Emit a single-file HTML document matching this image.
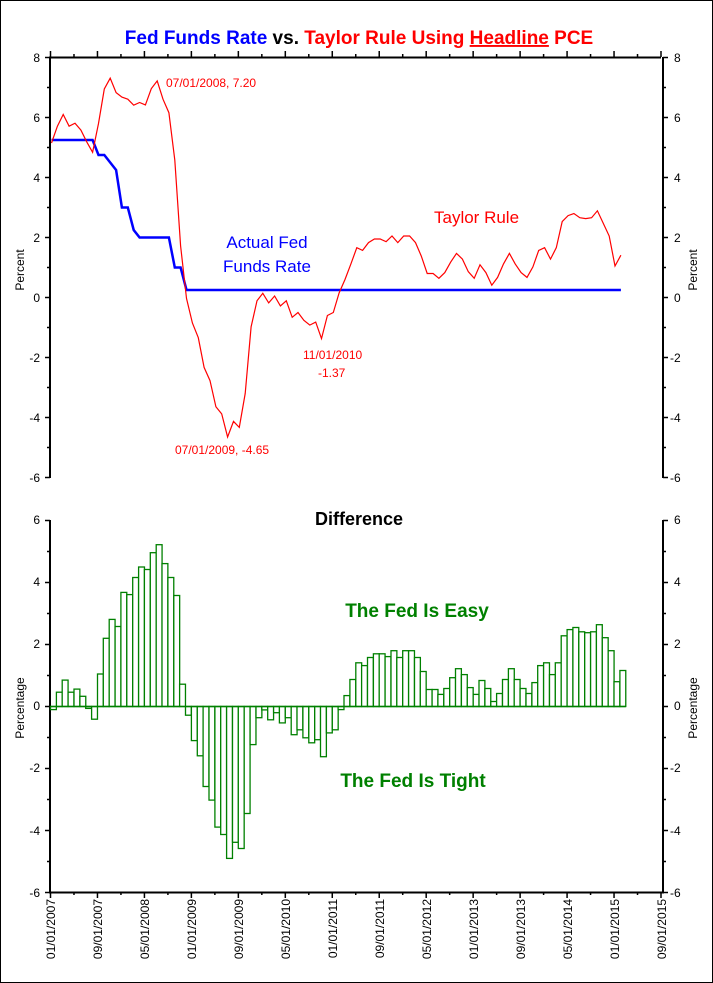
<!DOCTYPE html>
<html><head><meta charset="utf-8"><style>
html,body{margin:0;padding:0;background:#fff}
svg{display:block;font-family:"Liberation Sans",Arial,sans-serif}
</style></head><body>
<svg id="s" width="713" height="983" viewBox="0 0 713 983" xmlns="http://www.w3.org/2000/svg">
<rect x="0.5" y="0.5" width="712" height="982" fill="#fff" stroke="#000" stroke-width="1"/>
<g id="g"></g>
<text x="359" y="44" text-anchor="middle" font-size="19" font-weight="bold"><tspan fill="#0000ff">Fed Funds Rate</tspan><tspan fill="#000"> vs. </tspan><tspan fill="#ff0000">Taylor Rule Using </tspan><tspan fill="#ff0000" text-decoration="underline">Headline</tspan><tspan fill="#ff0000"> PCE</tspan></text>
<g font-size="12" fill="#000" text-anchor="end">
<text x="40" y="62">8</text><text x="40" y="122">6</text><text x="40" y="182">4</text><text x="40" y="242">2</text><text x="40" y="302">0</text><text x="40" y="362">-2</text><text x="40" y="422">-4</text><text x="40" y="482">-6</text>
<text x="40" y="524">6</text><text x="40" y="586">4</text><text x="40" y="648">2</text><text x="40" y="710">0</text><text x="40" y="772">-2</text><text x="40" y="835">-4</text><text x="40" y="897">-6</text>
</g>
<g font-size="12" fill="#000" text-anchor="start">
<text x="674" y="62">8</text><text x="674" y="122">6</text><text x="674" y="182">4</text><text x="674" y="242">2</text><text x="674" y="302">0</text><text x="670" y="362">-2</text><text x="670" y="422">-4</text><text x="670" y="482">-6</text>
<text x="674" y="524">6</text><text x="674" y="586">4</text><text x="674" y="648">2</text><text x="674" y="710">0</text><text x="670" y="772">-2</text><text x="670" y="835">-4</text><text x="670" y="897">-6</text>
</g>
<text transform="translate(24,270) rotate(-90)" font-size="12" text-anchor="middle">Percent</text>
<text transform="translate(697,270) rotate(-90)" font-size="12" text-anchor="middle">Percent</text>
<text transform="translate(24,708) rotate(-90)" font-size="12" text-anchor="middle">Percentage</text>
<text transform="translate(697,708) rotate(-90)" font-size="12" text-anchor="middle">Percentage</text>
<g font-size="12" fill="#ff0000">
<text x="166" y="87">07/01/2008, 7.20</text>
<text x="303" y="359">11/01/2010</text>
<text x="318" y="377">-1.37</text>
<text x="175" y="454">07/01/2009, -4.65</text>
</g>
<text x="434" y="223" font-size="17" fill="#ff0000">Taylor Rule</text>
<text x="267" y="248" font-size="17" fill="#0000ff" text-anchor="middle">Actual Fed</text>
<text x="267" y="272" font-size="17" fill="#0000ff" text-anchor="middle">Funds Rate</text>
<text x="359" y="525" font-size="18" font-weight="bold" text-anchor="middle">Difference</text>
<text x="417" y="617" font-size="19" font-weight="bold" fill="#008000" text-anchor="middle">The Fed Is Easy</text>
<text x="413" y="787" font-size="19" font-weight="bold" fill="#008000" text-anchor="middle">The Fed Is Tight</text>
<g font-size="12" text-anchor="end">
<text transform="translate(55,899) rotate(-90)">01/01/2007</text>
<text transform="translate(102,899) rotate(-90)">09/01/2007</text>
<text transform="translate(149,899) rotate(-90)">05/01/2008</text>
<text transform="translate(196,899) rotate(-90)">01/01/2009</text>
<text transform="translate(243,899) rotate(-90)">09/01/2009</text>
<text transform="translate(290,899) rotate(-90)">05/01/2010</text>
<text transform="translate(337,899) rotate(-90)">01/01/2011</text>
<text transform="translate(384,899) rotate(-90)">09/01/2011</text>
<text transform="translate(431,899) rotate(-90)">05/01/2012</text>
<text transform="translate(478,899) rotate(-90)">01/01/2013</text>
<text transform="translate(525,899) rotate(-90)">09/01/2013</text>
<text transform="translate(572,899) rotate(-90)">05/01/2014</text>
<text transform="translate(619,899) rotate(-90)">01/01/2015</text>
<text transform="translate(666,899) rotate(-90)">09/01/2015</text>
</g>
</svg>
<script>
var D=[-0.1,0.46,0.85,0.46,0.56,0.33,-0.06,-0.41,1.05,2.2,2.81,2.58,3.68,3.61,4.16,4.5,4.42,4.96,5.22,4.61,4.16,3.58,0.72,-0.28,-1.10,-1.59,-2.58,-3.02,-3.89,-4.13,-4.9,-4.38,-4.58,-3.45,-1.23,-0.36,-0.11,-0.43,-0.2,-0.53,-0.36,-0.91,-0.75,-1.01,-1.17,-1.07,-1.62,-0.85,-0.75,-0.1,0.35,0.87,1.41,1.32,1.58,1.70,1.70,1.61,1.80,1.58,1.80,1.80,1.58,1.13,0.55,0.55,0.39,0.58,0.93,1.22,1.03,0.61,0.39,0.84,0.58,0.16,0.42,0.87,1.22,0.87,0.58,0.42,0.77,1.32,1.41,1.03,1.41,2.28,2.48,2.55,2.41,2.38,2.41,2.64,2.22,1.80,0.80,1.16];
function ff(i){if(i<=7)return 5.25;if(i<=9)return 4.75;if(i==10)return 4.5;if(i==11)return 4.25;if(i<=13)return 3.0;if(i==14)return 2.25;if(i<=20)return 2.0;if(i==21)return 1.0;if(i==22)return 1.0;return 0.25;}
var dx=610.5/104,x0=50.5;
var h='';
function L(a,b,c,d,w){h+='<line x1="'+a+'" y1="'+b+'" x2="'+c+'" y2="'+d+'" stroke="#000" stroke-width="'+(w||1)+'"/>';}
// top chart axes
var ty=function(v){return 297.5-30*v;};
L(50,57,50,478,2);L(663,57,663,478,2);L(49,57.5,661,57.5,2);
for(var v=-6;v<=8;v++){var y=ty(v);var len=(v%2==0)?5:3;L(50-len,y,50,y,1.5);L(663,y,663+len,y,1.5);}
for(var m=0;m<=104;m+=4){var x=x0+m*dx;var len=(m%8==0)?6:3;L(x,57,x,57-len,1.5);}
// bottom chart
var by=function(v){return 706.5-31*v;};
L(50,520,50,893,2);L(663,520,663,893,2);L(49,892.5,664,892.5,2);
for(var v=-6;v<=6;v++){var y=by(v);var len=(v%2==0)?5:3;L(50-len,y,50,y,1.5);L(663,y,663+len,y,1.5);}
for(var m=0;m<=104;m+=4){var x=x0+m*dx;var len=(m%8==0)?6:3;L(x,892,x,892+len,1.5);}
// bars
for(var i=0;i<D.length;i++){var x=x0+i*dx;var y=by(D[i]);var y0=by(0);
h+='<rect x="'+x.toFixed(1)+'" y="'+Math.min(y,y0).toFixed(1)+'" width="'+dx.toFixed(2)+'" height="'+Math.abs(y-y0).toFixed(1)+'" fill="#fff" stroke="#008000" stroke-width="1.3"/>';}
h+='<line x1="50" y1="'+by(0)+'" x2="'+(x0+D.length*dx)+'" y2="'+by(0)+'" stroke="#008000" stroke-width="1.5"/>';
// lines
var pr='',pb='';
for(var i=0;i<D.length;i++){var x=(x0+1+i*dx).toFixed(1);pr+=x+','+ty(D[i]+ff(i)).toFixed(1)+' ';pb+=x+','+ty(ff(i)).toFixed(1)+' ';}
h+='<polyline points="'+pb+'" fill="none" stroke="#0000ff" stroke-width="2.5"/>';
h+='<polyline points="'+pr+'" fill="none" stroke="#ff0000" stroke-width="1.2"/>';
document.getElementById('g').innerHTML=h;
</script>
</body></html>
